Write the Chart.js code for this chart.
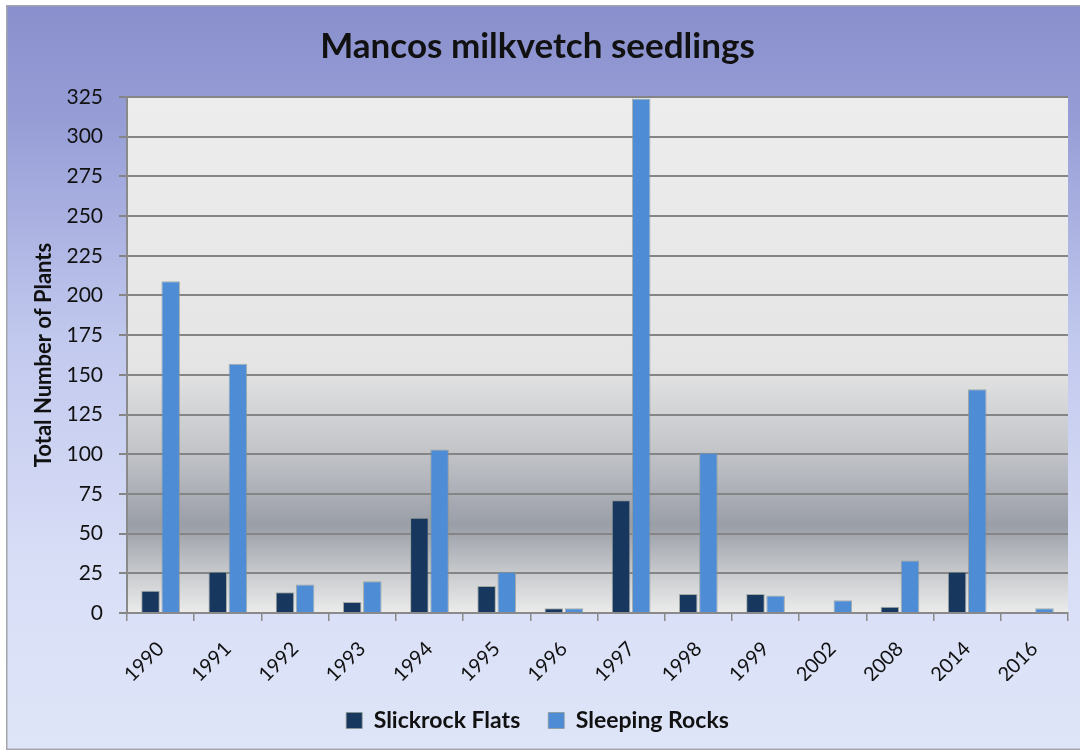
<!DOCTYPE html>
<html>
<head>
<meta charset="utf-8">
<script src="https://cdn.jsdelivr.net/npm/chart.js@4/dist/chart.umd.min.js"></script>
<style>
  html, body { margin: 0; padding: 0; background: #fff; }
  #wrap { width: 1080px; height: 752px; }
</style>
</head>
<body>
<div id="wrap"><canvas id="chart" width="1080" height="752"></canvas></div>
<script>
'use strict';

var years = ['1990', '1991', '1992', '1993', '1994', '1995', '1996', '1997', '1998', '1999', '2002', '2008', '2014', '2016'];
var slickrockFlats = [14, 26, 13, 7, 60, 17, 3, 71, 12, 12, 0, 4, 26, 0];
var sleepingRocks = [209, 157, 18, 20, 103, 26, 3, 324, 101, 11, 8, 33, 141, 3];
var yTicks = [0, 25, 50, 75, 100, 125, 150, 175, 200, 225, 250, 275, 300, 325];

// paints the framed outer background and the banded plot background
var backdrop = {
    id: 'backdrop',
    beforeDraw: function (chart) {
        var ctx = chart.ctx;
        var w = chart.width, h = chart.height;
        var a = chart.chartArea;
        ctx.save();
        ctx.fillStyle = '#ffffff';
        ctx.fillRect(0, 0, w, h);

        var g = ctx.createLinearGradient(0, 6, 0, 749);
        g.addColorStop(0, '#888fcc');
        g.addColorStop(0.15, '#969dd6');
        g.addColorStop(0.45, '#c2c9ee');
        g.addColorStop(0.75, '#d8def6');
        g.addColorStop(1, '#dfe5f8');
        ctx.fillStyle = g;
        ctx.fillRect(7, 6, w - 7, 743);
        ctx.strokeStyle = '#a4a6ac';
        ctx.lineWidth = 1.5;
        ctx.strokeRect(6.75, 5.75, w + 5, 743.5);

        var p = ctx.createLinearGradient(0, a.top, 0, a.bottom);
        p.addColorStop(0, '#ededed');
        p.addColorStop(0.52, '#e5e5e5');
        p.addColorStop(0.68, '#c4c6ca');
        p.addColorStop(0.83, '#9a9ea7');
        p.addColorStop(0.93, '#cbcdd0');
        p.addColorStop(1, '#ececec');
        ctx.fillStyle = p;
        ctx.fillRect(a.left, a.top, a.right - a.left, a.bottom - a.top);
        ctx.restore();
    }
};

var ctx = document.getElementById('chart').getContext('2d');
var chart = new Chart(ctx, {
    type: 'bar',
    data: {
        labels: years,
        datasets: [{
            label: 'Slickrock Flats',
            data: slickrockFlats,
            backgroundColor: '#17375f',
            borderColor: 'rgba(140,150,140,0.7)',
            borderWidth: 1
        }, {
            label: 'Sleeping Rocks',
            data: sleepingRocks,
            backgroundColor: '#4f8cd6',
            borderColor: 'rgba(140,150,140,0.7)',
            borderWidth: 1
        }]
    },
    options: {
        responsive: false,
        animation: false,
        datasets: {
            bar: { categoryPercentage: 0.6, barPercentage: 0.92 }
        },
        layout: { padding: { left: 7, right: 12, top: 6, bottom: 10 } },
        plugins: {
            title: {
                display: true,
                text: 'Mancos milkvetch seedlings',
                color: '#111111',
                font: { family: 'Lato', size: 35, weight: 'bold', lineHeight: 1.2 },
                padding: { top: 20, bottom: 29 }
            },
            legend: {
                position: 'bottom',
                labels: {
                    color: '#111111',
                    font: { family: 'Lato', size: 23, weight: 'bold' },
                    boxWidth: 16,
                    boxHeight: 16,
                    padding: 28
                }
            },
            tooltip: { enabled: false }
        },
        scales: {
            x: {
                afterFit: function (scale) { scale.height = 68; },
                grid: {
                    offset: true,
                    drawOnChartArea: false,
                    color: '#8a8a8a',
                    lineWidth: 1.5,
                    tickLength: 8
                },
                border: { color: '#8a8a8a', width: 2 },
                ticks: {
                    color: '#111111',
                    font: { family: 'Lato', size: 20 },
                    minRotation: 45,
                    maxRotation: 45,
                    padding: 16
                }
            },
            y: {
                min: 0,
                max: 325,
                afterFit: function (scale) { scale.width = 120; },
                afterBuildTicks: function (scale) {
                    scale.ticks = yTicks.map(function (v) { return { value: v }; });
                },
                grid: {
                    color: '#858585',
                    lineWidth: 2,
                    tickLength: 8
                },
                border: { color: '#8a8a8a', width: 2 },
                ticks: {
                    color: '#111111',
                    font: { family: 'Lato', size: 21 },
                    padding: 16
                },
                title: {
                    display: true,
                    text: 'Total Number of Plants',
                    color: '#111111',
                    font: { family: 'Lato', size: 22, weight: 'bold', lineHeight: 1.2 },
                    padding: { top: 24, bottom: 0 }
                }
            }
        }
    },
    plugins: [backdrop]
});
</script>
</body>
</html>
